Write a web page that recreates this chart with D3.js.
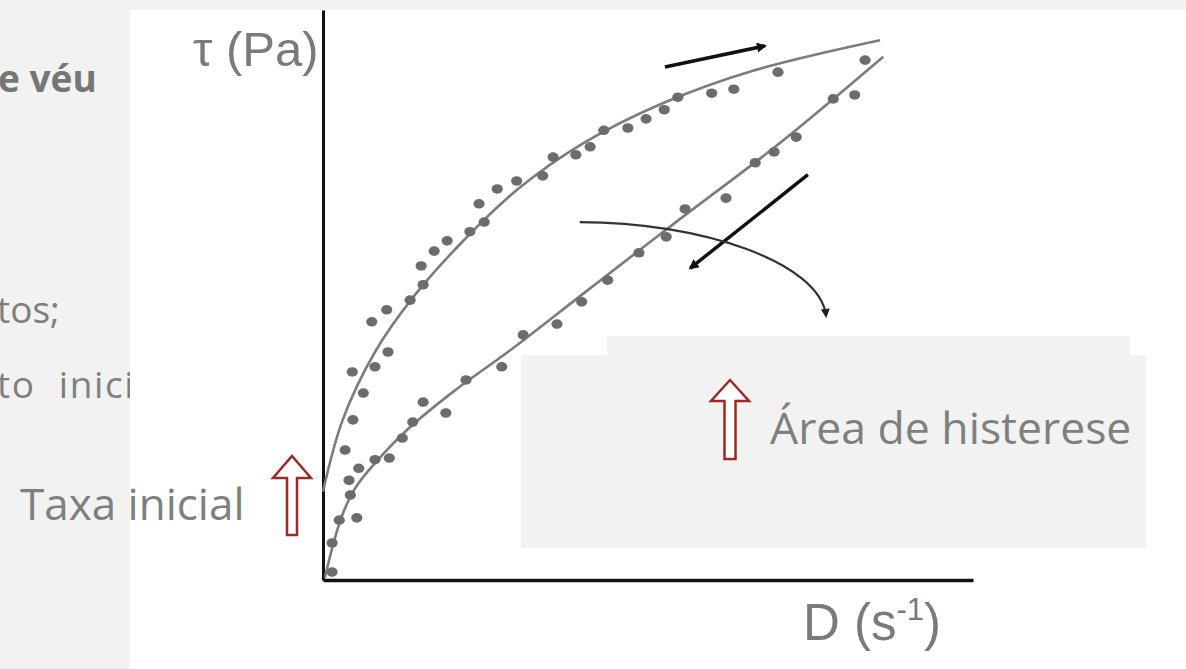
<!DOCTYPE html>
<html lang="pt">
<head>
<meta charset="UTF-8">
<title>Área de histerese</title>
<script src="https://d3js.org/d3.v7.min.js"></script>
<style>
  body { margin: 0; background: #f2f2f2; overflow: hidden; }
  svg { display: block; }
  .slide { font-family: "Open Sans", "Noto Sans", sans-serif; fill: #7f7f7f; }
  .axislbl { font-family: "Liberation Sans", Arial, sans-serif; fill: #7a7a7a; }
</style>
</head>
<body>
<svg id="chart" width="1186" height="669"></svg>
<script>
// flow curve (up) - measured points
const upperDotsX = [3.4, 4.6, 6.2, 4.5, 8.0, 10.0, 7.5, 9.8, 13.4, 15.4, 15.1, 17.1, 19.1, 22.6, 24.8, 24.0, 26.8, 29.8, 33.8, 35.4, 38.9, 41.1, 43.2, 46.9, 49.7, 52.5, 54.6, 59.8, 63.2, 70.0];
const upperDotsY = [22.8, 28.1, 32.8, 36.5, 37.4, 40.0, 45.3, 47.4, 49.1, 51.8, 55.1, 57.7, 59.5, 61.1, 62.8, 66.0, 68.6, 70.0, 70.9, 74.2, 74.6, 76.0, 78.9, 79.3, 80.9, 82.5, 84.7, 85.4, 86.1, 89.1];
// flow curve (down)
const lowerDotsX = [1.4, 1.4, 2.5, 5.2, 4.2, 4.0, 5.5, 8.0, 10.2, 12.2, 13.8, 15.4, 18.9, 22.0, 27.5, 30.8, 36.0, 39.8, 43.8, 48.6, 52.8, 55.7, 62.0, 66.5, 69.4, 72.8, 78.5, 81.8, 83.4];
const lowerDotsY = [1.4, 6.5, 10.5, 10.9, 14.9, 17.5, 19.6, 21.1, 21.4, 24.9, 27.7, 31.2, 29.3, 35.1, 37.4, 43.0, 44.9, 48.8, 52.6, 57.4, 60.2, 65.1, 67.0, 73.2, 75.1, 77.7, 84.4, 85.1, 91.2];

// fitted lines
const upperCurveX = [0, 3, 8, 14, 22, 30, 40, 52, 66, 85.7];
const upperCurveY = [15.5, 28, 40, 49.8, 60, 68.6, 76.6, 83.5, 89.3, 94.7];
const lowerCurveX = [0.3, 1.5, 3, 5, 8, 13, 20, 28.8, 40, 55, 70, 86.2];
const lowerCurveY = [0.4, 6, 11.5, 16.2, 20.5, 26.4, 33.0, 40.3, 50.2, 63.4, 76.4, 91.8];

// direction arrows (data units)
const arrowUp = [[52.6, 90.0], [68.0, 93.7]];
const arrowDown = [[74.6, 71.1], [56.5, 54.7]];
const bentArrow = [[39.5, 62.8], [58.0, 62.8], [76.5, 55.8], [77.4, 46.3]];

const svg = d3.select("#chart");
const W = 1186, H = 669;

const x = d3.scaleLinear().domain([0, 100]).range([323, 973]);
const y = d3.scaleLinear().domain([0, 100]).range([580, 10]);

// left slide text (behind the picture)
svg.append("text").attr("class", "slide").attr("x", -2).attr("y", 92)
    .style("font-size", "37px").style("font-weight", "bold").style("fill", "#767676").text("e véu");
svg.append("text").attr("class", "slide").attr("x", -3).attr("y", 323)
    .style("font-size", "37px").text("tos;");
svg.append("text").attr("class", "slide").attr("x", -3).attr("y", 398)
    .style("font-size", "37px").style("letter-spacing", "1.6px").style("word-spacing", "12px")
    .text("to inicial");

// white picture area
svg.append("rect").attr("x", 130).attr("y", 10).attr("width", W - 130).attr("height", H - 10).attr("fill", "#fff");

const defs = svg.append("defs");
defs.append("marker").attr("id", "head").attr("viewBox", "0 0 10 10")
    .attr("refX", 8).attr("refY", 5).attr("markerWidth", 12).attr("markerHeight", 10)
    .attr("markerUnits", "userSpaceOnUse").attr("orient", "auto")
    .append("path").attr("d", "M0,0 L10,5 L0,10 Z").attr("fill", "#111");
defs.append("marker").attr("id", "headSmall").attr("viewBox", "0 0 10 10")
    .attr("refX", 8).attr("refY", 5).attr("markerWidth", 10).attr("markerHeight", 9)
    .attr("markerUnits", "userSpaceOnUse").attr("orient", "auto")
    .append("path").attr("d", "M0,0 L10,5 L0,10 Z").attr("fill", "#222");

// axes
const yAxis = svg.append("g").attr("transform", `translate(${x(0)},0)`)
    .call(d3.axisLeft(y).ticks(0).tickSizeOuter(0));
yAxis.select(".domain").attr("stroke", "#111").attr("stroke-width", 3);
const xAxis = svg.append("g").attr("transform", `translate(0,${y(0)})`)
    .call(d3.axisBottom(x).ticks(0).tickSizeOuter(0));
xAxis.select(".domain").attr("stroke", "#111").attr("stroke-width", 3.5);

// fitted curves
const line = d3.line().x(d => x(d[0])).y(d => y(d[1])).curve(d3.curveCatmullRom.alpha(0.5));
const upperCurve = upperCurveX.map((v, i) => [v, upperCurveY[i]]);
const lowerCurve = lowerCurveX.map((v, i) => [v, lowerCurveY[i]]);
svg.append("path").datum(upperCurve).attr("d", line)
    .attr("fill", "none").attr("stroke", "#7c7c7c").attr("stroke-width", 2.6);
svg.append("path").datum(lowerCurve).attr("d", line)
    .attr("fill", "none").attr("stroke", "#7c7c7c").attr("stroke-width", 2.6);

// measured points
const dots = upperDotsX.map((v, i) => [v, upperDotsY[i]])
    .concat(lowerDotsX.map((v, i) => [v, lowerDotsY[i]]));
svg.selectAll(".dot").data(dots).enter().append("ellipse")
    .attr("class", "dot")
    .attr("cx", d => x(d[0])).attr("cy", d => y(d[1]))
    .attr("rx", 5.6).attr("ry", 4.8)
    .attr("fill", "#6c6c6c");

// direction arrows
const straight = d3.line().x(d => x(d[0])).y(d => y(d[1]));
svg.append("path").datum(arrowUp).attr("d", straight)
    .attr("stroke", "#111").attr("stroke-width", 3.5).attr("marker-end", "url(#head)");
svg.append("path").datum(arrowDown).attr("d", straight)
    .attr("stroke", "#111").attr("stroke-width", 3.5).attr("marker-end", "url(#head)");
const b = bentArrow.map(d => [x(d[0]), y(d[1])]);
svg.append("path")
    .attr("d", `M${b[0]}C${b[1]} ${b[2]} ${b[3]}`)
    .attr("fill", "none").attr("stroke", "#333").attr("stroke-width", 2.2)
    .attr("marker-end", "url(#headSmall)");

// axis titles
svg.append("text").attr("class", "axislbl").attr("x", 193).attr("y", 66)
    .style("font-size", "49px").text("τ (Pa)");
const dl = svg.append("text").attr("class", "axislbl").attr("x", 803).attr("y", 640)
    .style("font-size", "51px");
dl.append("tspan").text("D (s");
dl.append("tspan").attr("dy", -20).style("font-size", "31px").text("-1");
dl.append("tspan").attr("dy", 20).text(")");

// slide overlay boxes
svg.append("rect").attr("x", 607).attr("y", 336).attr("width", 523).attr("height", 30).attr("fill", "#f2f2f2");
svg.append("rect").attr("x", 521).attr("y", 355).attr("width", 625).attr("height", 193).attr("fill", "#f2f2f2");

// hollow red arrows
function upArrow(cx, top, headW, headH, shaftW, bottom) {
  const hw = headW / 2, sw = shaftW / 2;
  return `M${cx},${top} L${cx + hw},${top + headH} L${cx + sw},${top + headH} L${cx + sw},${bottom}` +
         ` L${cx - sw},${bottom} L${cx - sw},${top + headH} L${cx - hw},${top + headH} Z`;
}
svg.append("path").attr("d", upArrow(292, 456, 38, 22, 10, 535))
    .attr("fill", "#fff").attr("stroke", "#9b2a26").attr("stroke-width", 2.5);
svg.append("path").attr("d", upArrow(730, 380, 38, 21, 11, 459))
    .attr("fill", "#fff").attr("stroke", "#9b2a26").attr("stroke-width", 2.5);

svg.append("text").attr("class", "slide").attr("x", 770).attr("y", 444)
    .style("font-size", "44.5px").text("Área de histerese");
svg.append("text").attr("class", "slide").attr("x", 20).attr("y", 520)
    .style("font-size", "44px").text("Taxa inicial");
</script>
</body>
</html>
